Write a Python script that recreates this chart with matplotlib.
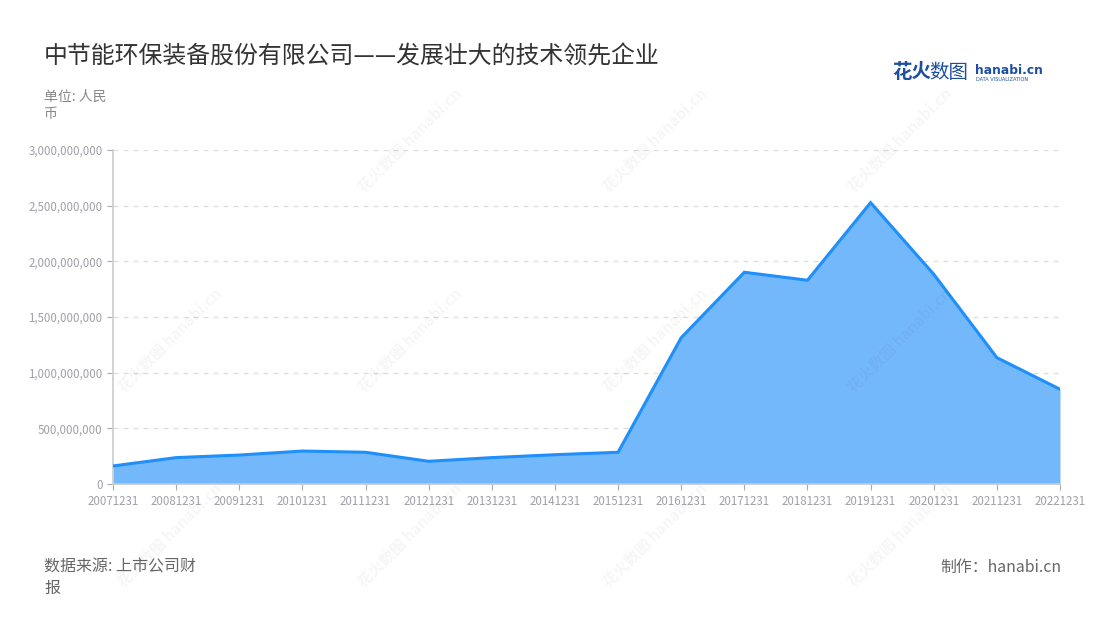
import numpy as np
import matplotlib
matplotlib.use("Agg")
import matplotlib.pyplot as plt
from matplotlib.ticker import FuncFormatter

plt.rcParams['font.family'] = ['Noto Sans CJK SC', 'DejaVu Sans']

# data (yuan)
dates = ['20071231', '20081231', '20091231', '20101231', '20111231', '20121231',
         '20131231', '20141231', '20151231', '20161231', '20171231', '20181231',
         '20191231', '20201231', '20211231', '20221231']
values = [0.162e9, 0.237e9, 0.260e9, 0.296e9, 0.285e9, 0.204e9,
          0.237e9, 0.263e9, 0.285e9, 1.314e9, 1.902e9, 1.830e9,
          2.527e9, 1.884e9, 1.135e9, 0.851e9]
y_ticks = [0, 500e6, 1000e6, 1500e6, 2000e6, 2500e6, 3000e6]

fig = plt.figure(figsize=(11, 6.2), dpi=100)
ax = fig.add_axes([113 / 1100, 1 - 484 / 620, (1060 - 113) / 1100, (484 - 150) / 620])

x = np.arange(len(dates))
ax.fill_between(x, values, 0, color='#74b8fc', lw=0, zorder=2)
ax.plot(x, values, color='#1e8ffb', lw=2.2, zorder=3, solid_joinstyle='miter')

ax.set_xlim(0, len(dates) - 1)
ax.set_ylim(0, 3e9)
ax.set_xticks(x)
ax.set_xticklabels(dates)
ax.set_yticks(y_ticks)
ax.yaxis.set_major_formatter(FuncFormatter(lambda v, p: f"{int(v):,}"))
ax.tick_params(axis='both', labelsize=8.3, colors='#aaaaaa', labelcolor='#a0a0a8', length=4)
ax.tick_params(axis='x', pad=4)
ax.grid(axis='y', color='#dddddd', ls=(0, (4, 4)), lw=0.9, zorder=0)
for s in ['top', 'right']:
    ax.spines[s].set_visible(False)
ax.spines['left'].set_color('#cccccc')
ax.spines['left'].set_linewidth(1.2)
ax.spines['bottom'].set_color('#cccccc')
ax.spines['bottom'].set_linewidth(1.2)
ax.set_axisbelow(True)

# watermarks
for wx, wy in [(410, 140), (655, 140), (900, 140),
               (170, 340), (410, 340), (655, 340), (900, 340),
               (170, 535), (410, 535), (655, 535), (900, 535)]:
    fig.text(wx / 1100, 1 - wy / 620, '花火数图 hanabi.cn', rotation=45,
             ha='center', va='center', fontsize=11, color='#000000', alpha=0.04,
             fontweight='bold', zorder=10)

# titles and notes
fig.text(44 / 1100, 1 - 57 / 620, '中节能环保装备股份有限公司——发展壮大的技术领先企业',
         fontsize=17.2, color='#333333', ha='left', va='center')
fig.text(44 / 1100, 1 - 105 / 620, '单位: 人民\n币', fontsize=10, color='#888888',
         ha='left', va='center', linespacing=1.3)
fig.text(44 / 1100, 1 - 578 / 620, '数据来源: 上市公司财\n报', fontsize=11.5, color='#666666',
         ha='left', va='center', linespacing=1.35)
fig.text(1061 / 1100, 1 - 567 / 620, '制作：hanabi.cn', fontsize=11.4, color='#666666',
         ha='right', va='center')

# logo
fig.text(892 / 1100, 1 - 73 / 620, '花火', fontsize=14, color='#1d4fa0', fontweight='bold',
         ha='left', va='center')
fig.text(929 / 1100, 1 - 73 / 620, '数图', fontsize=14, color='#1d4fa0',
         ha='left', va='center')
fig.text(975 / 1100, 1 - 70 / 620, 'hanabi.cn', fontsize=8.8, color='#1d4fa0', fontweight='bold',
         ha='left', va='center', family='DejaVu Sans')
fig.text(976 / 1100, 1 - 79.5 / 620, 'DATA VISUALIZATION', fontsize=3.6, color='#1d4fa0',
         ha='left', va='center', family='DejaVu Sans')

fig.savefig('out.png', dpi=100, facecolor='white')
